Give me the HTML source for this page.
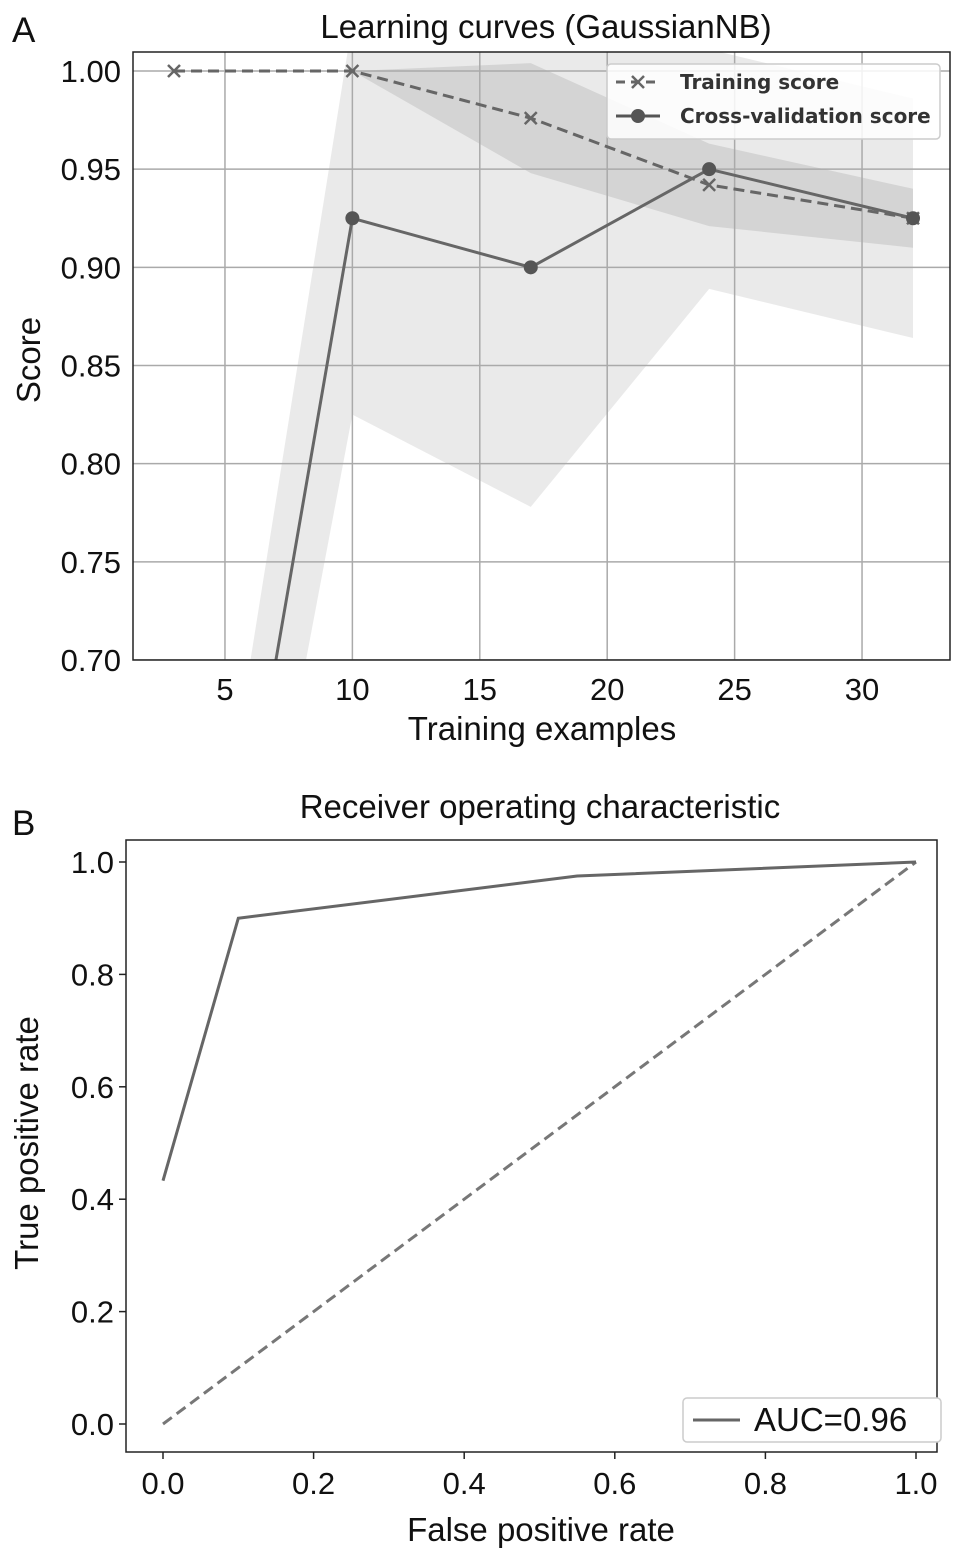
<!DOCTYPE html>
<html><head><meta charset="utf-8"><style>
body{margin:0;background:#fff;}
svg text{font-family:"Liberation Sans",Arial,sans-serif;fill:#111;}
</style></head><body>
<svg id="s" width="969" height="1561" xmlns="http://www.w3.org/2000/svg">
<text x="12" y="42" font-size="35">A</text>
<text x="546" y="38" font-size="33" text-anchor="middle">Learning curves (GaussianNB)</text>
<text x="12" y="835" font-size="35">B</text>
<text x="540" y="818" font-size="33" text-anchor="middle">Receiver operating characteristic</text>
<g id="a"></g>
<g id="b"></g>
</svg>
<script>
const trainSizes=[3,10,17,24,32];
const trainMean=[1.0,1.0,0.976,0.942,0.925];
const trainStd=[0,0,0.028,0.021,0.015];
const cvMean=[0.4,0.925,0.9,0.95,0.925];
const cvStd=[0.056,0.1,0.122,0.061,0.061];
const yTicksA=[0.70,0.75,0.80,0.85,0.90,0.95,1.00];
const xTicksA=[5,10,15,20,25,30];
const fpr=[0,0.1,0.55,1.0];
const tpr=[0.433,0.9,0.975,1.0];
const ticksB=[0,0.2,0.4,0.6,0.8,1.0];
const NS='http://www.w3.org/2000/svg';
function mk(p,t,a){const e=document.createElementNS(NS,t);for(const k in a)e.setAttribute(k,a[k]);p.appendChild(e);return e;}
const A=document.getElementById('a');
const L=133,R=950,T=52,B=660;
const xA=v=>174+(v-3)*(913-174)/29;
const yA=v=>71+(1-v)*(660-71)/0.3;
mk(A,'clipPath',{id:'ca'}).appendChild(document.createElementNS(NS,'rect'));
const cr=document.querySelector('#ca rect');cr.setAttribute('x',L);cr.setAttribute('y',T);cr.setAttribute('width',R-L);cr.setAttribute('height',B-T);
const gA=mk(A,'g',{'clip-path':'url(#ca)'});
function band(m,s,op,name){let up=trainSizes.map((x,i)=>xA(x)+','+yA(m[i]+s[i]));let lo=trainSizes.map((x,i)=>xA(x)+','+yA(m[i]-s[i])).reverse();
const e=mk(gA,'polygon',{points:up.concat(lo).join(' '),fill:'#888',opacity:op});

}
band(cvMean,cvStd,0.18,'cv-score-band');
band(trainMean,trainStd,0.22,'training-score-band');
xTicksA.forEach(t=>{mk(gA,'line',{x1:xA(t),x2:xA(t),y1:T,y2:B,stroke:'#aaa','stroke-width':1.5});
const e=mk(A,'text',{x:xA(t),y:B+40,'font-size':31,'text-anchor':'middle'});e.textContent=t;

});
yTicksA.forEach(t=>{mk(gA,'line',{x1:L,x2:R,y1:yA(t),y2:yA(t),stroke:'#aaa','stroke-width':1.5});
const e=mk(A,'text',{x:L-12,y:yA(t)+11,'font-size':31,'text-anchor':'end'});e.textContent=t.toFixed(2);

});
const tl=mk(gA,'polyline',{points:trainSizes.map((x,i)=>xA(x)+','+yA(trainMean[i])).join(' '),fill:'none',stroke:'#666','stroke-width':3,'stroke-dasharray':'11,6'});


const cl=mk(gA,'polyline',{points:trainSizes.map((x,i)=>xA(x)+','+yA(cvMean[i])).join(' '),fill:'none',stroke:'#666','stroke-width':3});


trainSizes.forEach((x,i)=>{const cx=xA(x),cy=yA(trainMean[i]);
const g=mk(gA,'path',{d:`M${cx-6},${cy-6}L${cx+6},${cy+6}M${cx-6},${cy+6}L${cx+6},${cy-6}`,stroke:'#666','stroke-width':2.5});


const c=mk(gA,'circle',{cx:cx,cy:yA(cvMean[i]),r:7,fill:'#555'});

});
mk(A,'rect',{x:L,y:T,width:R-L,height:B-T,fill:'none',stroke:'#222','stroke-width':1.5});
let e=mk(A,'text',{x:542,y:740,'font-size':33,'text-anchor':'middle'});e.textContent='Training examples';


e=mk(A,'text',{x:0,y:0,'font-size':33,'text-anchor':'middle',transform:'translate(40,360) rotate(-90)'});e.textContent='Score';


const lg=mk(A,'g',{});


mk(lg,'rect',{x:607,y:64,width:333,height:75,rx:4,fill:'#fff','fill-opacity':0.85,stroke:'#ccc','stroke-width':1.5});
mk(lg,'line',{x1:616,x2:660,y1:82,y2:82,stroke:'#666','stroke-width':3,'stroke-dasharray':'9,6'});
mk(lg,'path',{d:'M632,76L644,88M632,88L644,76',stroke:'#666','stroke-width':2.5});
mk(lg,'line',{x1:616,x2:660,y1:116,y2:116,stroke:'#555','stroke-width':3});
mk(lg,'circle',{cx:638,cy:116,r:7,fill:'#555'});
e=mk(lg,'text',{x:680,y:89,'font-size':20,'font-weight':'bold',style:'font-family:"DejaVu Sans",sans-serif;fill:#333'});e.textContent='Training score';
e=mk(lg,'text',{x:680,y:123,'font-size':20,'font-weight':'bold',style:'font-family:"DejaVu Sans",sans-serif;fill:#333'});e.textContent='Cross-validation score';
const Bc=document.getElementById('b');
const L2=126,R2=937,T2=840,B2=1452;
const xB=v=>163+v*(916-163);
const yB=v=>1424-v*(1424-862);
mk(Bc,'rect',{x:L2,y:T2,width:R2-L2,height:B2-T2,fill:'none',stroke:'#222','stroke-width':1.5});
ticksB.forEach(t=>{mk(Bc,'line',{x1:xB(t),x2:xB(t),y1:B2,y2:B2+7,stroke:'#222','stroke-width':1.5});
let e=mk(Bc,'text',{x:xB(t),y:B2+42,'font-size':31,'text-anchor':'middle'});e.textContent=t.toFixed(1);


mk(Bc,'line',{x1:L2-7,x2:L2,y1:yB(t),y2:yB(t),stroke:'#222','stroke-width':1.5});
e=mk(Bc,'text',{x:L2-12,y:yB(t)+11,'font-size':31,'text-anchor':'end'});e.textContent=t.toFixed(1);

});
const dg=mk(Bc,'line',{x1:xB(0),y1:yB(0),x2:xB(1),y2:yB(1),stroke:'#777','stroke-width':3,'stroke-dasharray':'11,6'});


const rl=mk(Bc,'polyline',{points:fpr.map((x,i)=>xB(x)+','+yB(tpr[i])).join(' '),fill:'none',stroke:'#666','stroke-width':3});


const lg2=mk(Bc,'g',{});


mk(lg2,'rect',{x:683,y:1398,width:258,height:44,rx:4,fill:'#fff',stroke:'#ccc','stroke-width':1.5});
mk(lg2,'line',{x1:693,x2:740,y1:1420,y2:1420,stroke:'#666','stroke-width':3});
e=mk(lg2,'text',{x:754,y:1431,'font-size':33});e.textContent='AUC=0.96';
e=mk(Bc,'text',{x:541,y:1541,'font-size':33,'text-anchor':'middle'});e.textContent='False positive rate';


e=mk(Bc,'text',{x:0,y:0,'font-size':33,'text-anchor':'middle',transform:'translate(38,1143) rotate(-90)'});e.textContent='True positive rate';


</script>
</body></html>
